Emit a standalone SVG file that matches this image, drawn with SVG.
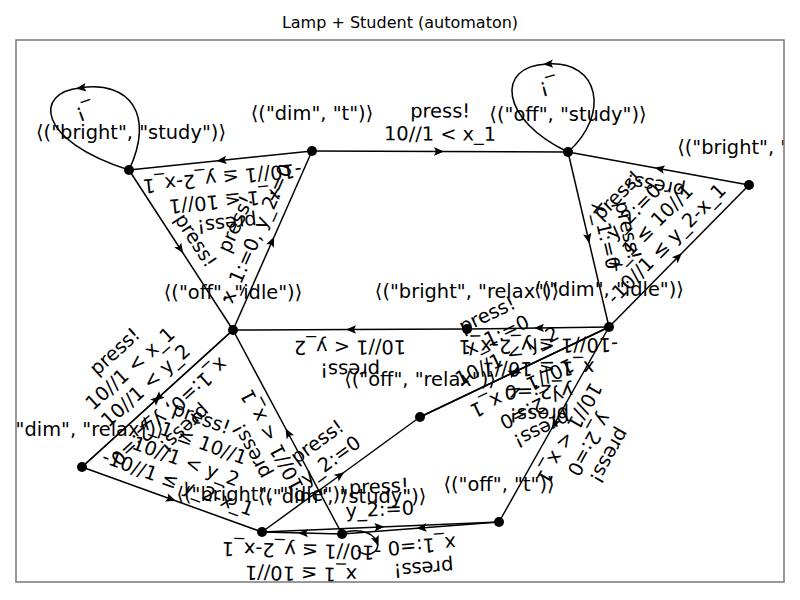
<svg xmlns="http://www.w3.org/2000/svg" width="800" height="600" viewBox="0 0 800 600">
<defs>
<style>
.e{stroke:#000;stroke-width:1.5;fill:none;marker-mid:url(#arr)}
.t{font-family:"DejaVu Sans","Liberation Sans",sans-serif;font-size:19.4px;text-anchor:middle;fill:#000}
.nd{fill:#000}
.title{font-family:"DejaVu Sans","Liberation Sans",sans-serif;font-size:16px;text-anchor:middle;fill:#000}
</style>
<marker id="arr" viewBox="-7 -5 11 10" markerWidth="11" markerHeight="10" refX="0" refY="0" orient="auto" markerUnits="userSpaceOnUse">
<path d="M4,0 L-6,-4.2 L-4,0 L-6,4.2 Z" fill="#000"/>
</marker>
<clipPath id="ax"><rect x="16" y="40" width="768" height="542"/></clipPath>
</defs>
<rect width="800" height="600" fill="#fff"/>
<text class="title" x="400" y="28">Lamp + Student (automaton)</text>
<g clip-path="url(#ax)">
<g id="connectors">
<path class="e" d="M312,151 L220.5,160.5 L129,170"/>
<path class="e" d="M312,151 L440,151.5 L568,152"/>
<path class="e" d="M129,170 L181,250 L233,330"/>
<path class="e" d="M233,330 L272.5,240.5 L312,151"/>
<path class="e" d="M749,185 L658.5,168.5 L568,152"/>
<path class="e" d="M568,152 L588.5,239.5 L609,327"/>
<path class="e" d="M609,327 L679,256 L749,185"/>
<path class="e" d="M609,327 L538,328 L467,329"/>
<path class="e" d="M467,329 L350,329.5 L233,330"/>
<path class="e" d="M82,467 L157.5,398.5 L233,330"/>
<path class="e" d="M233,330 L157.5,398.5 L82,467"/>
<path class="e" d="M82,467 L172,499.5 L262,532"/>
<path class="e" d="M342,534 L302,533 L262,532"/>
<path class="e" d="M262,532 L380.5,527 L499,522"/>
<path class="e" d="M499,522 L420.5,528 L342,534"/>
<path class="e" d="M342,534 L287.5,432 L233,330"/>
<path class="e" d="M262,532 L341,474.5 L420,417"/>
<path class="e" d="M420,417 L514.5,372 L609,327"/>
<path class="e" d="M609,327 L514.5,372 L420,417"/>
<path class="e" d="M609,327 L554,424.5 L499,522"/>
<path class="e" d="M129,170 C155,115 130,80 80,88 C35,92 35,140 129,170"/>
<path class="e" d="M568,152 C610,115 600,60 547,64 C495,66 500,120 568,152"/>
<path class="e" d="M342,534 C352,528 372,530 377,542 C381,553 365,559 358,550"/>
</g>
<g id="edge-labels">
<g transform="translate(220.5,160.5) rotate(174.1)"><text class="t"><tspan x="0" y="-57">press!</tspan><tspan x="0" y="-34">x_1 ≤ 10//1</tspan><tspan x="0" y="-11">-10//1 ≤ y_2-x_1</tspan></text></g>
<g transform="translate(440,151.5) rotate(0.2)"><text class="t"><tspan x="0" y="-34">press!</tspan><tspan x="0" y="-11">10//1 &lt; x_1</tspan></text></g>
<g transform="translate(181,250) rotate(57)"><text class="t"><tspan x="0" y="-11">press!</tspan></text></g>
<g transform="translate(272.5,240.5) rotate(-66.2)"><text class="t"><tspan x="0" y="-34">press!</tspan><tspan x="0" y="-11">x_1:=0, y_2:=0</tspan></text></g>
<g transform="translate(658.5,168.5) rotate(190.3)"><text class="t"><tspan x="0" y="-11">press!</tspan></text></g>
<g transform="translate(588.5,239.5) rotate(76.8)"><text class="t"><tspan x="0" y="-34">press!</tspan><tspan x="0" y="-11">x_1:=0</tspan></text></g>
<g transform="translate(679,256) rotate(-45.4)"><text class="t"><tspan x="0" y="-80">press!</tspan><tspan x="0" y="-57">y_2:=0</tspan><tspan x="0" y="-34">x_1 ≤ 10//1</tspan><tspan x="0" y="-11">-10//1 ≤ y_2-x_1</tspan></text></g>
<g transform="translate(538,328) rotate(179.2)"><text class="t"><tspan x="0" y="-80">press!</tspan><tspan x="0" y="-57">y_2:=0</tspan><tspan x="0" y="-34">x_1 ≤ 10//1</tspan><tspan x="0" y="-11">-10//1 ≤ y_2-x_1</tspan></text></g>
<g transform="translate(350,329.5) rotate(179.8)"><text class="t"><tspan x="0" y="-34">press!</tspan><tspan x="0" y="-11">10//1 &lt; y_2</tspan></text></g>
<g transform="translate(157.5,398.5) rotate(-42.2)"><text class="t"><tspan x="0" y="-57">press!</tspan><tspan x="0" y="-34">10//1 &lt; x_1</tspan><tspan x="0" y="-11">10//1 &lt; y_2</tspan></text></g>
<g transform="translate(157.5,398.5) rotate(137.8)"><text class="t"><tspan x="0" y="-34">press!</tspan><tspan x="0" y="-11">x_1:=0, y_2:=0</tspan></text></g>
<g transform="translate(172,499.5) rotate(19.9)"><text class="t"><tspan x="0" y="-80">press!</tspan><tspan x="0" y="-57">x_1 ≤ 10//1</tspan><tspan x="0" y="-34">10//1 &lt; y_2</tspan><tspan x="0" y="-11">-10//1 ≤ y_2-x_1</tspan></text></g>
<g transform="translate(302,533) rotate(-178.6)"><text class="t"><tspan x="0" y="-57">press!</tspan><tspan x="0" y="-34">x_1 ≤ 10//1</tspan><tspan x="0" y="-11">-10//1 ≤ y_2-x_1</tspan></text></g>
<g transform="translate(380.5,527) rotate(-2.4)"><text class="t"><tspan x="0" y="-34">press!</tspan><tspan x="0" y="-11">y_2:=0</tspan></text></g>
<g transform="translate(420.5,528) rotate(175.6)"><text class="t"><tspan x="0" y="-34">press!</tspan><tspan x="0" y="-11">x_1:=0</tspan></text></g>
<g transform="translate(287.5,432) rotate(-118.1)"><text class="t"><tspan x="0" y="-34">press!</tspan><tspan x="0" y="-11">10//1 &lt; x_1</tspan></text></g>
<g transform="translate(341,474.5) rotate(-36)"><text class="t"><tspan x="0" y="-34">press!</tspan><tspan x="0" y="-11">y_2:=0</tspan></text></g>
<g transform="translate(514.5,372) rotate(-25.5)"><text class="t"><tspan x="0" y="-57">press!</tspan><tspan x="0" y="-34">x_1:=0</tspan><tspan x="0" y="-11">10//1 &lt; y_2</tspan></text></g>
<g transform="translate(514.5,372) rotate(154.5)"><text class="t"><tspan x="0" y="-57">press!</tspan><tspan x="0" y="-34">y_2:=0</tspan><tspan x="0" y="-11">10//1 &lt; x_1</tspan></text></g>
<g transform="translate(554,424.5) rotate(119.4)"><text class="t"><tspan x="0" y="-57">press!</tspan><tspan x="0" y="-34">y_2:=0</tspan><tspan x="0" y="-11">10//1 &lt; x_1</tspan></text></g>
<g transform="translate(83,106) rotate(160)"><text class="t" x="0" y="0">_!</text></g>
<g transform="translate(547,81) rotate(165)"><text class="t" x="0" y="0">_!</text></g>
</g>
<g id="n-bright-study"><circle class="nd" cx="129" cy="170" r="5"/><text class="t" x="131" y="139">⟨("bright", "study")⟩</text></g>
<g id="n-dim-t"><circle class="nd" cx="312" cy="151" r="5"/><text class="t" x="312" y="120">⟨("dim", "t")⟩</text></g>
<g id="n-off-study"><circle class="nd" cx="568" cy="152" r="5"/><text class="t" x="568" y="121">⟨("off", "study")⟩</text></g>
<g id="n-bright-t"><circle class="nd" cx="749" cy="185" r="5"/><text class="t" x="749" y="154">⟨("bright", "t")⟩</text></g>
<g id="n-off-idle"><circle class="nd" cx="233" cy="330" r="5"/><text class="t" x="233" y="299">⟨("off", "idle")⟩</text></g>
<g id="n-bright-relax"><circle class="nd" cx="467" cy="329" r="5"/><text class="t" x="467" y="298">⟨("bright", "relax")⟩</text></g>
<g id="n-dim-idle"><circle class="nd" cx="609" cy="327" r="5"/><text class="t" x="609" y="296">⟨("dim", "idle")⟩</text></g>
<g id="n-dim-relax"><circle class="nd" cx="82" cy="467" r="5"/><text class="t" x="82" y="436">⟨("dim", "relax")⟩</text></g>
<g id="n-off-relax"><circle class="nd" cx="420" cy="417" r="5"/><text class="t" x="420" y="386">⟨("off", "relax")⟩</text></g>
<g id="n-off-t"><circle class="nd" cx="499" cy="522" r="5"/><text class="t" x="499" y="491">⟨("off", "t")⟩</text></g>
<g id="n-bright-idle"><circle class="nd" cx="262" cy="532" r="5"/><text class="t" x="262" y="501">⟨("bright", "idle")⟩</text></g>
<g id="n-dim-study"><circle class="nd" cx="342" cy="534" r="5"/><text class="t" x="342" y="503">⟨("dim", "study")⟩</text></g>
</g>
<rect x="16" y="40" width="768" height="542" fill="none" stroke="#808080" stroke-width="1.6"/>
</svg>
